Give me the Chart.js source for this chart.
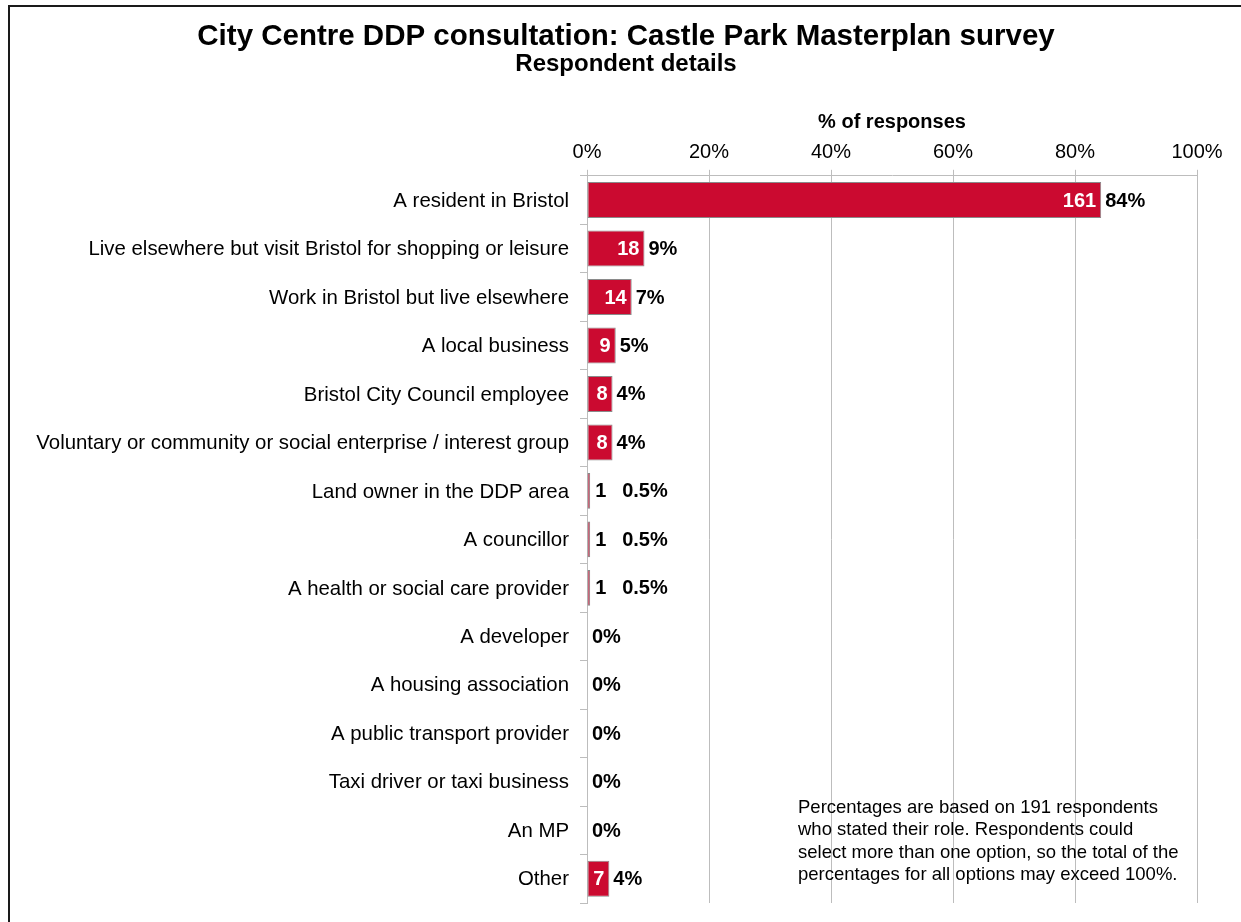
<!DOCTYPE html>
<html>
<head>
<meta charset="utf-8">
<title>Castle Park Masterplan survey – Respondent details</title>
<script src="https://cdn.jsdelivr.net/npm/chart.js@4/dist/chart.umd.min.js"></script>
<style>
  html, body { margin: 0; padding: 0; background: #fff; overflow: hidden; }
  #wrap { position: relative; width: 1241px; height: 922px; }
  #frame {
    position: absolute; left: 8px; top: 5px; width: 1400px; height: 1100px;
    border: 2.5px solid #1a1a1a; box-sizing: border-box; pointer-events: none;
  }
  canvas { display: block; }
</style>
</head>
<body>
<div id="wrap">
  <canvas id="chart" width="1241" height="922"></canvas>
  <div id="frame"></div>
</div>
<script>
const categories = [
  'A resident in Bristol',
  'Live elsewhere but visit Bristol for shopping or leisure',
  'Work in Bristol but live elsewhere',
  'A local business',
  'Bristol City Council employee',
  'Voluntary or community or social enterprise / interest group',
  'Land owner in the DDP area',
  'A councillor',
  'A health or social care provider',
  'A developer',
  'A housing association',
  'A public transport provider',
  'Taxi driver or taxi business',
  'An MP',
  'Other'
];
const counts = [161, 18, 14, 9, 8, 8, 1, 1, 1, 0, 0, 0, 0, 0, 7];
const percentLabels = ['84%', '9%', '7%', '5%', '4%', '4%', '0.5%', '0.5%', '0.5%', '0%', '0%', '0%', '0%', '0%', '4%'];
const respondents = 191;
const tickValues = [0, 20, 40, 60, 80, 100];
const noteLines = [
  'Percentages are based on 191 respondents',
  'who stated their role. Respondents could',
  'select more than one option, so the total of the',
  'percentages for all options may exceed 100%.'
];

// share of respondents for each role, in percent
const shares = counts.map(c => c / respondents * 100);

const FONT = "'Liberation Sans', Arial, Helvetica, sans-serif";
const RED = '#CB0A30';
const GRID = '#bdbdbd';

// counts inside (or beside) each bar, followed by the percentage
const barLabels = {
  id: 'barLabels',
  afterDatasetsDraw(chart) {
    const ctx = chart.ctx;
    const meta = chart.getDatasetMeta(0);
    ctx.save();
    ctx.font = 'bold 20px ' + FONT;
    ctx.textBaseline = 'middle';
    meta.data.forEach((bar, i) => {
      const xEnd = bar.x;
      const y = bar.y + 1;
      const c = counts[i];
      const base = chart.scales.x.getPixelForValue(0);
      let nextX = xEnd + 5;
      if (c > 0) {
        const txt = String(c);
        const w = ctx.measureText(txt).width;
        if (xEnd - base > w + 8) {
          ctx.fillStyle = '#ffffff';
          ctx.textAlign = 'right';
          ctx.fillText(txt, xEnd - 5, y);
          nextX = xEnd + 4;
        } else {
          ctx.fillStyle = '#000000';
          ctx.textAlign = 'left';
          ctx.fillText(txt, xEnd + 5, y);
          nextX = xEnd + 32;
        }
      }
      ctx.fillStyle = '#000000';
      ctx.textAlign = 'left';
      ctx.fillText(percentLabels[i], nextX, y);
    });
    ctx.restore();
  }
};

// explanatory note in the lower right of the plot
const noteText = {
  id: 'noteText',
  afterDraw(chart) {
    const ctx = chart.ctx;
    ctx.save();
    ctx.font = '18.5px ' + FONT;
    ctx.fillStyle = '#000';
    ctx.textAlign = 'left';
    ctx.textBaseline = 'middle';
    noteLines.forEach((line, i) => ctx.fillText(line, 798, 808 + i * 22.3));
    ctx.restore();
  }
};

new Chart(document.getElementById('chart'), {
  type: 'bar',
  data: {
    labels: categories,
    datasets: [{
      data: shares,
      backgroundColor: RED,
      borderColor: '#8a8a8a',
      borderWidth: 1,
      borderSkipped: false,
      barPercentage: 0.74,
      categoryPercentage: 1.0
    }]
  },
  options: {
    indexAxis: 'y',
    responsive: false,
    animation: false,
    devicePixelRatio: 1,
    layout: { padding: { top: 22, left: 11, right: 0, bottom: 19 } },
    plugins: {
      legend: { display: false },
      tooltip: { enabled: false },
      title: {
        display: true,
        text: 'City Centre DDP consultation: Castle Park Masterplan survey',
        color: '#000',
        font: { family: FONT, size: 29.5, weight: 'bold', lineHeight: 1.0 },
        padding: 0
      },
      subtitle: {
        display: true,
        text: 'Respondent details',
        color: '#000',
        font: { family: FONT, size: 24, weight: 'bold', lineHeight: 1.1 },
        padding: 0
      }
    },
    scales: {
      x: {
        position: 'top',
        min: 0,
        max: 100,
        afterBuildTicks(scale) {
          scale.ticks = tickValues.map(v => ({ value: v }));
        },
        afterFit(scale) {
          scale.height = 176 - 78.1;
          scale.paddingLeft = 0;
          scale.paddingRight = 44;
        },
        ticks: {
          color: '#000',
          font: { family: FONT, size: 20 },
          padding: 5,
          callback: v => v + '%'
        },
        grid: { color: GRID, lineWidth: 1, tickLength: 6 },
        border: { color: GRID, width: 1 },
        title: {
          display: true,
          text: '% of responses',
          color: '#000',
          font: { family: FONT, size: 20, weight: 'bold', lineHeight: 1.2 },
          padding: { top: 33, bottom: 0 }
        }
      },
      y: {
        afterFit(scale) {
          scale.width = 576;
          scale.paddingTop = 0;
          scale.paddingBottom = 0;
        },
        ticks: {
          color: '#000',
          font: { family: FONT, size: 20.4 },
          padding: 11,
          labelOffset: 1,
          autoSkip: false
        },
        grid: { display: true, drawOnChartArea: false, color: GRID, tickLength: 7, offset: true },
        border: { color: GRID, width: 1 }
      }
    }
  },
  plugins: [barLabels, noteText]
});
</script>
</body>
</html>
